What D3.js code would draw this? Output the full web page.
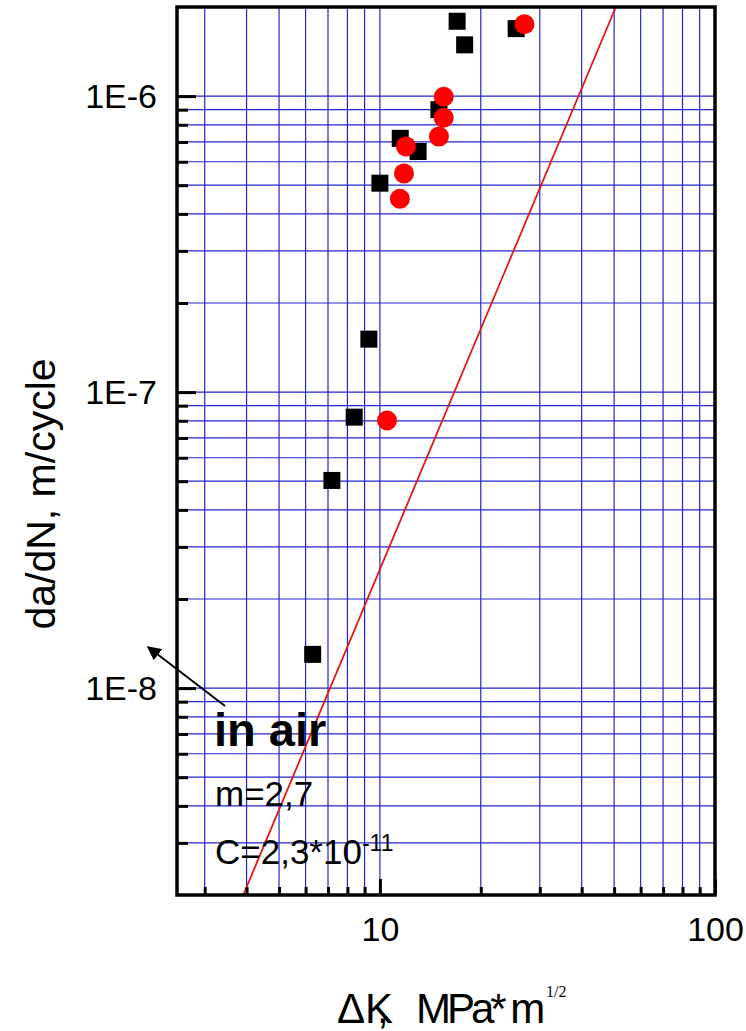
<!DOCTYPE html>
<html>
<head>
<meta charset="utf-8">
<script src="https://cdn.jsdelivr.net/npm/d3@7"></script>
<style>
  html, body { margin: 0; padding: 0; background: #fff; }
  svg { display: block; font-family: "Liberation Sans", Arial, sans-serif; }
</style>
</head>
<body>
<svg id="chart" width="746" height="1031"></svg>
<script>
// ---- data ----
const squareK    = [17.0, 17.9, 25.5, 15.0, 11.5, 13.0, 10.0, 9.27, 8.38, 7.19, 6.3];
const squareRate = [1.79e-6, 1.49e-6, 1.69e-6, 9.0e-7, 7.2e-7, 6.5e-7, 5.08e-7, 1.51e-7, 8.23e-8, 5.03e-8, 1.30e-8];
const circleK    = [27.0, 15.5, 15.5, 15.0, 11.96, 11.8, 11.47, 10.5];
const circleRate = [1.75e-6, 9.95e-7, 8.45e-7, 7.3e-7, 6.76e-7, 5.48e-7, 4.5e-7, 8.02e-8];
const fitLineK    = [3.91, 50.6];
const fitLineRate = [2e-9, 2e-6];
const xDomain = [2.48, 100];
const yDomain = [2e-9, 2e-6];
const xMajorTicks = [10, 100];
const xMinorTicks = [3, 4, 5, 6, 7, 8, 9, 20, 30, 40, 50, 60, 70, 80, 90];
const yMajorTicks = [1e-8, 1e-7, 1e-6];
const yMajorLabels = ["1E-8", "1E-7", "1E-6"];
const yMinorTicks = [3e-9, 4e-9, 5e-9, 6e-9, 7e-9, 8e-9, 9e-9,
                     2e-8, 3e-8, 4e-8, 5e-8, 6e-8, 7e-8, 8e-8, 9e-8,
                     2e-7, 3e-7, 4e-7, 5e-7, 6e-7, 7e-7, 8e-7, 9e-7];
const xTitle = "ΔK";
const yTitle = "da/dN, m/cycle";

// ---- layout ----
const L = 177, R = 715, T = 7, B = 895;
const svg = d3.select("#chart");
const x = d3.scaleLog().domain(xDomain).range([L, R]);
const y = d3.scaleLog().domain(yDomain).range([B, T]);

// grid
const grid = svg.append("g").attr("stroke", "#2424cc").attr("stroke-width", 1.2);
grid.selectAll("line.v").data(xMajorTicks.concat(xMinorTicks)).join("line")
  .attr("x1", d => x(d)).attr("x2", d => x(d)).attr("y1", T).attr("y2", B);
grid.selectAll("line.h").data(yMajorTicks.concat(yMinorTicks)).join("line")
  .attr("y1", d => y(d)).attr("y2", d => y(d)).attr("x1", L).attr("x2", R);

// fit line
svg.append("line")
  .attr("x1", x(fitLineK[0])).attr("y1", y(fitLineRate[0]))
  .attr("x2", x(fitLineK[1])).attr("y2", y(fitLineRate[1]))
  .attr("stroke", "#e01818").attr("stroke-width", 1.8);

// markers
const sq = 17;
svg.append("g").selectAll("rect").data(squareK).join("rect")
  .attr("x", (d, i) => x(d) - sq / 2).attr("y", (d, i) => y(squareRate[i]) - sq / 2)
  .attr("width", sq).attr("height", sq).attr("fill", "#000");
svg.append("g").selectAll("circle").data(circleK).join("circle")
  .attr("cx", d => x(d)).attr("cy", (d, i) => y(circleRate[i]))
  .attr("r", 10).attr("fill", "#ff0000");

// axes
function styleAxis(g) {
  g.select(".domain").remove();
  g.selectAll(".tick line").attr("stroke", "#000").attr("stroke-width", 3);
  g.selectAll(".tick text").attr("fill", "#000").attr("font-family", "'Liberation Sans', Arial, sans-serif");
}
svg.append("g").attr("transform", `translate(${L},0)`)
  .call(d3.axisLeft(y).tickValues(yMinorTicks).tickSize(-11).tickFormat(""))
  .call(styleAxis);
svg.append("g").attr("transform", `translate(${L},0)`)
  .call(d3.axisLeft(y).tickValues(yMajorTicks).tickSize(-19).tickPadding(20)
        .tickFormat((d, i) => yMajorLabels[i]))
  .call(styleAxis)
  .call(g => g.selectAll(".tick text").attr("font-size", 34).attr("dy", "0.33em"));
svg.append("g").attr("transform", `translate(0,${B})`)
  .call(d3.axisBottom(x).tickValues(xMinorTicks).tickSize(-8).tickFormat(""))
  .call(styleAxis);
svg.append("g").attr("transform", `translate(0,${B})`)
  .call(d3.axisBottom(x).tickValues(xMajorTicks).tickSize(-16).tickPadding(22)
        .tickFormat(d3.format("d")))
  .call(styleAxis)
  .call(g => g.selectAll(".tick text").attr("font-size", 34));

// frame
svg.append("rect").attr("x", L).attr("y", T).attr("width", R - L).attr("height", B - T)
  .attr("fill", "none").attr("stroke", "#000").attr("stroke-width", 3.5);

// axis titles
svg.append("text")
  .attr("transform", `translate(55,494) rotate(-90)`)
  .attr("text-anchor", "middle").attr("font-size", 41).attr("fill", "#000")
  .text(yTitle);

const xt = svg.append("text").attr("x", 337).attr("y", 1023)
  .attr("font-size", 42).attr("fill", "#000");
xt.append("tspan").text(xTitle);
xt.append("tspan").attr("dx", -16).text(",");
xt.append("tspan").attr("x", 416).attr("letter-spacing", -4).text("MPa* m");
xt.append("tspan").attr("x", 546).attr("y", 997)
  .attr("font-family", "'Liberation Serif', 'Times New Roman', serif")
  .attr("font-size", 16).text("1/2");

// annotations
svg.append("defs").append("marker")
  .attr("id", "arrow").attr("viewBox", "0 0 10 10").attr("refX", 9).attr("refY", 5)
  .attr("markerWidth", 7).attr("markerHeight", 7).attr("orient", "auto")
  .append("path").attr("d", "M0,0 L10,5 L0,10 z").attr("fill", "#000");
svg.append("line").attr("x1", 225).attr("y1", 706).attr("x2", 148).attr("y2", 647)
  .attr("stroke", "#000").attr("stroke-width", 2).attr("marker-end", "url(#arrow)");

svg.append("text").attr("x", 214).attr("y", 746)
  .attr("font-size", 47).attr("font-weight", "bold").attr("fill", "#000").text("in air");
svg.append("text").attr("x", 215).attr("y", 806)
  .attr("font-size", 35).attr("fill", "#000").text("m=2,7");
const ct = svg.append("text").attr("x", 215).attr("y", 864)
  .attr("font-size", 35).attr("fill", "#000");
ct.append("tspan").text("C=2,3*10");
ct.append("tspan").attr("font-size", 23).attr("dy", -13).text("-11");
</script>
</body>
</html>
